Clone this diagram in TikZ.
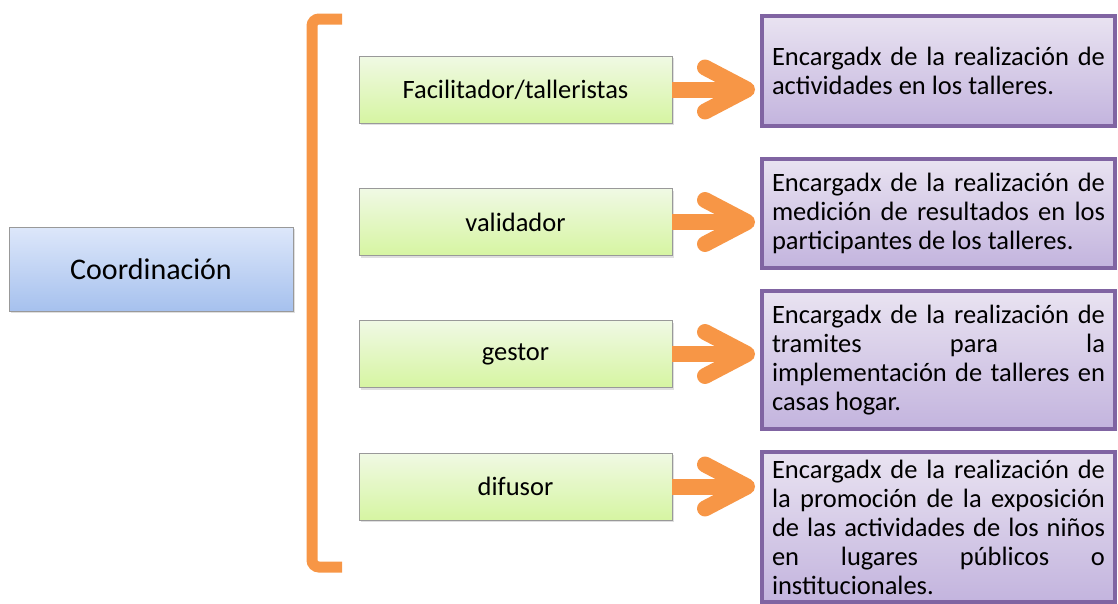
\documentclass[tikz,border=0pt]{standalone}
\usepackage{fontspec}
\setmainfont{Carlito}
\usetikzlibrary{arrows.meta,shadows}
\hbadness=10000
\definecolor{naranja}{HTML}{F79646}
\definecolor{morado}{HTML}{8064A2}

\begin{document}
\begin{tikzpicture}[x=1pt,y=-1pt,
    caja/.style={draw=gray!80, line width=0.8pt, inner sep=0pt,
      drop shadow={shadow xshift=1.5pt, shadow yshift=-2pt, opacity=0.25}},
    coordbox/.style={caja, top color={rgb,255:red,221;green,231;blue,250}, bottom color={rgb,255:red,166;green,193;blue,238},
      minimum width=284pt, minimum height=84pt, font=\fontsize{30}{34}\selectfont},
    rolbox/.style={caja, top color={rgb,255:red,240;green,249;blue,228}, bottom color={rgb,255:red,214;green,245;blue,162},
      minimum width=313pt, minimum height=67pt, font=\fontsize{26.5}{30}\selectfont},
    descbox/.style={draw=morado, line width=4pt, inner xsep=10pt, inner ysep=0pt,
      top color={rgb,255:red,233;green,227;blue,241}, bottom color={rgb,255:red,195;green,180;blue,222},
      drop shadow={shadow xshift=1.5pt, shadow yshift=-2pt, opacity=0.3},
      text width=333pt, minimum width=353pt, align=justify, font=\fontsize{26.5}{29}\selectfont},
    flecha/.style={naranja, line width=16pt, shorten >=5pt,
      -{Straight Barb[length=42pt, width=44pt, round]}}]
  \useasboundingbox (0,0) rectangle (1118,603);
  \clip (0,0) rectangle (1118,603);

  \node[coordbox] (coord) at (151,269) {Coordinación};

  % corchete
  \draw[naranja, line width=11pt, rounded corners=7pt] (342,19) -- (312,19) -- (312,567) -- (342,567);

  \node[rolbox] (fac) at (515.5,89.5) {Facilitador/talleristas};
  \node[rolbox] (val) at (515.5,222) {validador};
  \node[rolbox] (ges) at (515.5,354) {gestor};
  \node[rolbox] (dif) at (515.5,486.5) {difusor};

  \node[descbox, minimum height=110pt] (d1) at (938.5,71)
    {Encargadx de la realización de\linebreak actividades en los talleres.};
  \node[descbox, minimum height=109pt] (d2) at (938.5,213)
    {Encargadx de la realización de\linebreak medición de resultados en los\linebreak participantes de los talleres.};
  \node[descbox, minimum height=138pt] (d3) at (938.5,360)
    {Encargadx de la realización de\linebreak tramites para la\linebreak implementación de talleres en\linebreak casas hogar.};
  \node[descbox, minimum height=150pt] (d4) at (938.5,527)
    {Encargadx de la realización de\linebreak la promoción de la exposición\linebreak de las actividades de los niños\linebreak en lugares públicos o\linebreak institucionales.};

  \draw[flecha] (fac.east) -- (d1.west |- fac.east);
  \draw[flecha] (val.east) -- (d2.west |- val.east);
  \draw[flecha] (ges.east) -- (d3.west |- ges.east);
  \draw[flecha] (dif.east) -- (d4.west |- dif.east);
\end{tikzpicture}
\end{document}
